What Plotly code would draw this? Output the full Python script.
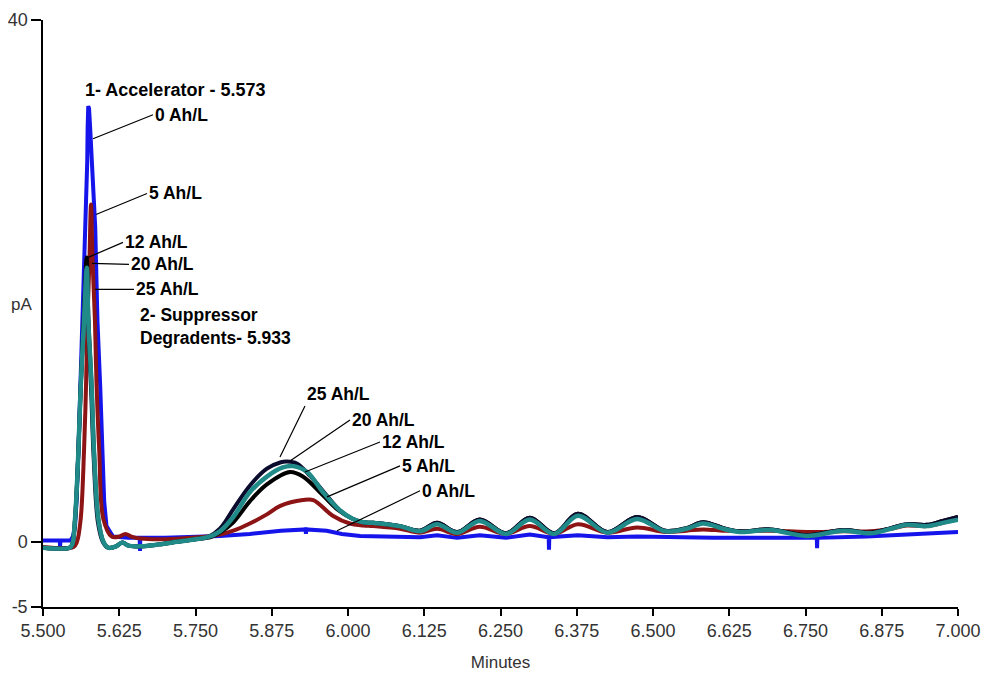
import plotly.graph_objects as go

# ---------------- data (minutes, pA) ----------------
# 0 Ah/L (blue)
zero_x = [5.500, 5.5275, 5.528, 5.5285, 5.545, 5.549, 5.5525, 5.555, 5.558, 5.5615,
          5.5648, 5.5659, 5.5703, 5.5725, 5.5732, 5.5742, 5.5755, 5.5772, 5.5800, 5.5856,
          5.5882, 5.5893, 5.5938, 5.5980, 5.6003, 5.6041, 5.6148, 5.640, 5.6585, 5.659,
          5.6595, 5.700, 5.750, 5.790, 5.839, 5.890, 5.9305, 5.931, 5.9315, 5.965,
          5.990, 6.020, 6.060, 6.095, 6.118, 6.146, 6.179, 6.216, 6.259, 6.298,
          6.329, 6.3295, 6.330, 6.377, 6.425, 6.474, 6.520, 6.600, 6.700, 6.7685,
          6.769, 6.7695, 6.850, 6.950, 7.000]
zero_y = [0.1, 0.1, -0.4, 0.1, 0.1, 0.4, 1.2, 3.1, 6.9, 11.9,
          16.9, 19.0, 24.1, 29.1, 31.8, 33.4, 33.2, 31.8, 29.1, 24.1,
          19.0, 16.9, 11.9, 6.9, 3.1, 1.2, 0.4, 0.3, 0.3, -0.7,
          0.3, 0.3, 0.35, 0.45, 0.6, 0.85, 0.95, 0.6, 0.95, 0.85,
          0.6, 0.45, 0.4, 0.4, 0.35, 0.5, 0.3, 0.5, 0.3, 0.55,
          0.35, -0.6, 0.35, 0.5, 0.35, 0.4, 0.35, 0.3, 0.3, 0.3,
          -0.5, 0.3, 0.4, 0.6, 0.75]

# shared time grid for the ripple region after the second peak
tail_x = [6.025, 6.041, 6.085, 6.118, 6.146, 6.179, 6.216, 6.259, 6.298, 6.338,
          6.377, 6.425, 6.474, 6.520, 6.555, 6.582, 6.615, 6.643, 6.692, 6.752,
          6.812, 6.856, 6.890, 6.916, 6.949, 6.975, 7.000]

# 5 Ah/L (maroon)
five_head_x = [5.500, 5.550, 5.5557, 5.5618, 5.5672, 5.5705, 5.5728, 5.5761, 5.5787, 5.5813,
               5.5852, 5.5879, 5.5923, 5.5989, 5.6126, 5.625, 5.635, 5.645, 5.660, 5.700,
               5.740, 5.770, 5.790, 5.812, 5.839, 5.867, 5.889, 5.926, 5.943, 5.975, 6.003]
five_head_y = [-0.4, -0.4, 0.0, 1.75, 6.9, 11.9, 16.9, 21.5, 25.85, 21.5,
               16.9, 11.9, 6.9, 1.75, 0.4, 0.4, 0.6, 0.4, 0.25, 0.2,
               0.3, 0.4, 0.55, 0.85, 1.4, 2.1, 2.75, 3.2, 3.2, 2.0, 1.4]
five_tail_y = [1.25, 1.2, 1.0, 0.7, 1.0, 0.6, 1.15, 0.6, 1.2, 0.6,
               1.35, 0.7, 1.1, 0.75, 0.85, 0.95, 0.85, 0.8, 0.85, 0.75,
               0.8, 0.8, 1.0, 1.25, 1.2, 1.45, 1.75]

# 12 Ah/L (black)
twelve_head_x = [5.500, 5.544, 5.548, 5.5525, 5.558, 5.5618, 5.567, 5.5716, 5.5745, 5.5797,
                 5.5836, 5.5907, 5.599, 5.6066, 5.620, 5.630, 5.640, 5.660, 5.690, 5.720,
                 5.750, 5.775, 5.790, 5.812, 5.839, 5.867, 5.905, 5.926, 5.954, 5.982, 6.008]
twelve_head_y = [-0.45, -0.45, -0.2, 1.75, 6.9, 11.9, 17.0, 21.8, 17.0, 11.9,
                 6.9, 1.75, 0.0, -0.45, -0.35, -0.05, -0.3, -0.35, -0.2, 0.0,
                 0.2, 0.35, 0.7, 1.5, 3.1, 4.4, 5.35, 5.0, 3.8, 2.5, 1.75]
twelve_tail_y = [1.5, 1.45, 1.2, 0.85, 1.45, 0.75, 1.7, 0.65, 1.85, 0.65,
                 2.15, 0.75, 1.9, 0.85, 1.05, 1.5, 1.05, 0.8, 0.95, 0.5,
                 0.9, 0.7, 1.05, 1.35, 1.3, 1.6, 1.9]

# 25 Ah/L (dark navy)
tfive_head_x = [5.500, 5.544, 5.548, 5.553, 5.558, 5.562, 5.567, 5.571, 5.574, 5.579,
                5.583, 5.590, 5.598, 5.6066, 5.620, 5.630, 5.640, 5.660, 5.690, 5.720,
                5.750, 5.770, 5.790, 5.812, 5.839, 5.867, 5.890, 5.900, 5.916, 5.938,
                5.966, 5.987, 6.008]
tfive_head_y = [-0.45, -0.45, -0.2, 2.0, 7.0, 12.0, 17.5, 20.6, 17.0, 11.5,
                6.5, 1.5, 0.0, -0.45, -0.35, -0.05, -0.3, -0.35, -0.2, 0.0,
                0.2, 0.35, 1.0, 2.5, 4.3, 5.6, 6.1, 6.15, 6.0, 5.05,
                3.5, 2.4, 1.75]
tfive_tail_y = [1.5, 1.45, 1.2, 0.85, 1.45, 0.75, 1.7, 0.65, 1.85, 0.65,
                2.15, 0.75, 1.9, 0.85, 1.05, 1.5, 1.05, 0.8, 0.95, 0.5,
                0.9, 0.7, 1.05, 1.35, 1.3, 1.6, 1.9]

# 20 Ah/L (teal)
twenty_head_x = [5.500, 5.544, 5.548, 5.5525, 5.5580, 5.5618, 5.5672, 5.5718, 5.5743, 5.5797,
                 5.5836, 5.5907, 5.5990, 5.6066, 5.620, 5.630, 5.640, 5.660, 5.690, 5.720,
                 5.750, 5.770, 5.790, 5.812, 5.839, 5.867, 5.893, 5.910, 5.933, 5.959,
                 5.987, 6.008]
twenty_head_y = [-0.45, -0.45, -0.2, 1.75, 6.9, 11.9, 16.9, 21.0, 16.9, 11.9,
                 6.9, 1.75, 0.0, -0.45, -0.35, -0.05, -0.3, -0.35, -0.2, 0.0,
                 0.2, 0.35, 0.8, 1.9, 3.8, 5.0, 5.7, 5.8, 5.35, 3.8,
                 2.4, 1.75]
twenty_tail_y = [1.5, 1.45, 1.2, 0.8, 1.35, 0.7, 1.6, 0.6, 1.7, 0.6,
                 2.0, 0.7, 1.75, 0.8, 1.0, 1.4, 1.0, 0.75, 0.9, 0.45,
                 0.85, 0.65, 1.0, 1.3, 1.2, 1.45, 1.7]

x_ticks = [5.500, 5.625, 5.750, 5.875, 6.000, 6.125, 6.250, 6.375, 6.500, 6.625, 6.750, 6.875, 7.000]
y_tickvals = [-5, 0, 40]
y_ticktext = ["-5", "0", "40"]

# label: (text, tip x, tip y, ax px, ay px, yanchor)
peak_labels = [
    ("0 Ah/L", 5.5820, 30.90, 60, -24, "middle"),
    ("5 Ah/L", 5.5869, 25.09, 51, -21, "middle"),
    ("12 Ah/L", 5.5738, 21.80, 35, -15, "middle"),
    ("20 Ah/L", 5.5803, 21.34, 37, 1, "middle"),
    ("25 Ah/L", 5.5852, 19.35, 39, 0, "middle"),
    ("25 Ah/L", 5.8885, 6.50, 25, -51, "bottom"),
    ("20 Ah/L", 5.9049, 6.20, 60, -41, "middle"),
    ("12 Ah/L", 5.9295, 5.35, 75, -30, "middle"),
    ("5 Ah/L", 5.9656, 3.44, 73, -31, "middle"),
    ("0 Ah/L", 5.9820, 0.84, 83, -40, "middle"),
]

# ---------------- figure ----------------
FONT = "Liberation Sans, Arial, sans-serif"
fig = go.Figure()

series = [
    ("0 Ah/L", zero_x, zero_y, "#1414eb", "linear", 4),
    ("5 Ah/L", five_head_x + tail_x, five_head_y + five_tail_y, "#8c1414", "spline", 4),
    ("12 Ah/L", twelve_head_x + tail_x, twelve_head_y + twelve_tail_y, "#000000", "spline", 4),
    ("25 Ah/L", tfive_head_x + tail_x, tfive_head_y + tfive_tail_y, "#0b0b2e", "spline", 4),
    ("20 Ah/L", twenty_head_x + tail_x, twenty_head_y + twenty_tail_y, "#208a88", "spline", 4.5),
]
for name, xs, ys, col, shape, w in series:
    fig.add_trace(go.Scatter(x=xs, y=ys, mode="lines", name=name,
                             line=dict(color=col, width=w, shape=shape, smoothing=1.0)))

annotations = []
for text, tx, ty, ax, ay, yanc in peak_labels:
    annotations.append(dict(x=tx, y=ty, xref="x", yref="y", text="<b>%s</b>" % text,
                            showarrow=True, arrowhead=0, arrowwidth=1.2, arrowcolor="#000",
                            ax=ax, ay=ay, xanchor="left", yanchor=yanc, standoff=0,
                            font=dict(family=FONT, size=17.5, color="#000")))
annotations.append(dict(x=5.5656, y=34.67, xref="x", yref="y",
                        text="<b>1- Accelerator - 5.573</b>", showarrow=False,
                        xanchor="left", yanchor="middle",
                        font=dict(family=FONT, size=18, color="#000")))
annotations.append(dict(x=5.6557, y=16.5, xref="x", yref="y",
                        text="<b>2- Suppressor<br>Degradents- 5.933</b>", showarrow=False,
                        xanchor="left", yanchor="middle", align="left",
                        font=dict(family=FONT, size=17.5, color="#000")))
annotations.append(dict(x=-0.023, y=18.2, xref="paper", yref="y", text="pA",
                        showarrow=False, xanchor="center", yanchor="middle",
                        font=dict(family=FONT, size=17, color="#333")))

# page body adds an 8px offset, so the figure is 984x665 with the plot area
# placed to land where the reference's axes are
fig.update_layout(
    width=984, height=665,
    margin=dict(l=35, r=34, t=12, b=66, autoexpand=False),
    plot_bgcolor="white", paper_bgcolor="white",
    showlegend=False,
    annotations=annotations,
    font=dict(family=FONT, size=18, color="#333"),
)
fig.update_xaxes(range=[5.5, 7.0], tickvals=x_ticks, tickformat=".3f",
                 showline=True, linecolor="#000", linewidth=1.5,
                 ticks="outside", ticklen=7, tickwidth=1.5, tickcolor="#000",
                 showgrid=False, zeroline=False, automargin=False,
                 tickfont=dict(family=FONT, size=18, color="#333"),
                 title=dict(text="Minutes", standoff=16,
                            font=dict(family=FONT, size=17, color="#333")))
fig.update_yaxes(range=[-5, 40], tickvals=y_tickvals, ticktext=y_ticktext,
                 showline=True, linecolor="#000", linewidth=1.5,
                 ticks="outside", ticklen=10, tickwidth=1.5, tickcolor="#000",
                 showgrid=False, zeroline=False, automargin=False,
                 tickfont=dict(family=FONT, size=18, color="#333"))

fig.write_html("out.html")
